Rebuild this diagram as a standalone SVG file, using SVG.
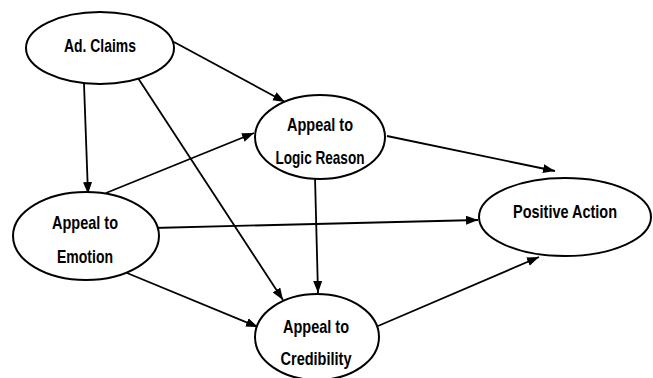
<svg xmlns="http://www.w3.org/2000/svg" width="653" height="378" viewBox="0 0 653 378">
<style>
.node{fill:#fff;stroke:#000;stroke-width:2}
.lbl{font-family:"Liberation Sans",Arial,sans-serif;font-weight:bold;font-size:19px;fill:#000;text-anchor:middle}
.edge{stroke:#000;stroke-width:1.8;fill:none;marker-end:url(#arr)}
</style>
<defs>
<marker id="arr" markerUnits="userSpaceOnUse" markerWidth="13" markerHeight="10" refX="12" refY="4.5" orient="auto">
<path d="M0,0 L12,4.5 L0,9 z" fill="#000"/>
</marker>
</defs>
<rect width="653" height="378" fill="#fff"/>
<g id="connectors">
<line class="edge" x1="174" y1="42" x2="285" y2="102"/>
<line class="edge" x1="84" y1="84" x2="88" y2="194"/>
<line class="edge" x1="136" y1="75" x2="283" y2="300"/>
<line class="edge" x1="106" y1="193" x2="254" y2="133"/>
<line class="edge" x1="387" y1="136" x2="555" y2="171"/>
<line class="edge" x1="153" y1="228" x2="478" y2="220"/>
<line class="edge" x1="315" y1="177" x2="318" y2="293"/>
<line class="edge" x1="127" y1="273" x2="258" y2="327"/>
<line class="edge" x1="378" y1="326" x2="539" y2="257"/>
</g>
<g id="ad-claims">
<ellipse class="node" cx="100" cy="48" rx="74" ry="36"/>
<text class="lbl" x="100" y="52" textLength="72" lengthAdjust="spacingAndGlyphs">Ad. Claims</text>
</g>
<g id="appeal-logic">
<ellipse class="node" cx="320" cy="137" rx="65" ry="42"/>
<text class="lbl" x="320" y="131" textLength="66" lengthAdjust="spacingAndGlyphs">Appeal to</text>
<text class="lbl" x="320" y="164" textLength="89" lengthAdjust="spacingAndGlyphs">Logic Reason</text>
</g>
<g id="positive-action">
<ellipse class="node" cx="565" cy="217" rx="86" ry="39"/>
<text class="lbl" x="565" y="218" textLength="104" lengthAdjust="spacingAndGlyphs">Positive Action</text>
</g>
<g id="appeal-emotion">
<ellipse class="node" cx="86" cy="236" rx="73" ry="44"/>
<text class="lbl" x="85" y="229" textLength="66" lengthAdjust="spacingAndGlyphs">Appeal to</text>
<text class="lbl" x="85" y="263" textLength="56" lengthAdjust="spacingAndGlyphs">Emotion</text>
</g>
<g id="appeal-credibility">
<ellipse class="node" cx="317" cy="337" rx="62" ry="43"/>
<text class="lbl" x="316" y="333" textLength="66" lengthAdjust="spacingAndGlyphs">Appeal to</text>
<text class="lbl" x="316" y="365" textLength="71" lengthAdjust="spacingAndGlyphs">Credibility</text>
</g>
</svg>
